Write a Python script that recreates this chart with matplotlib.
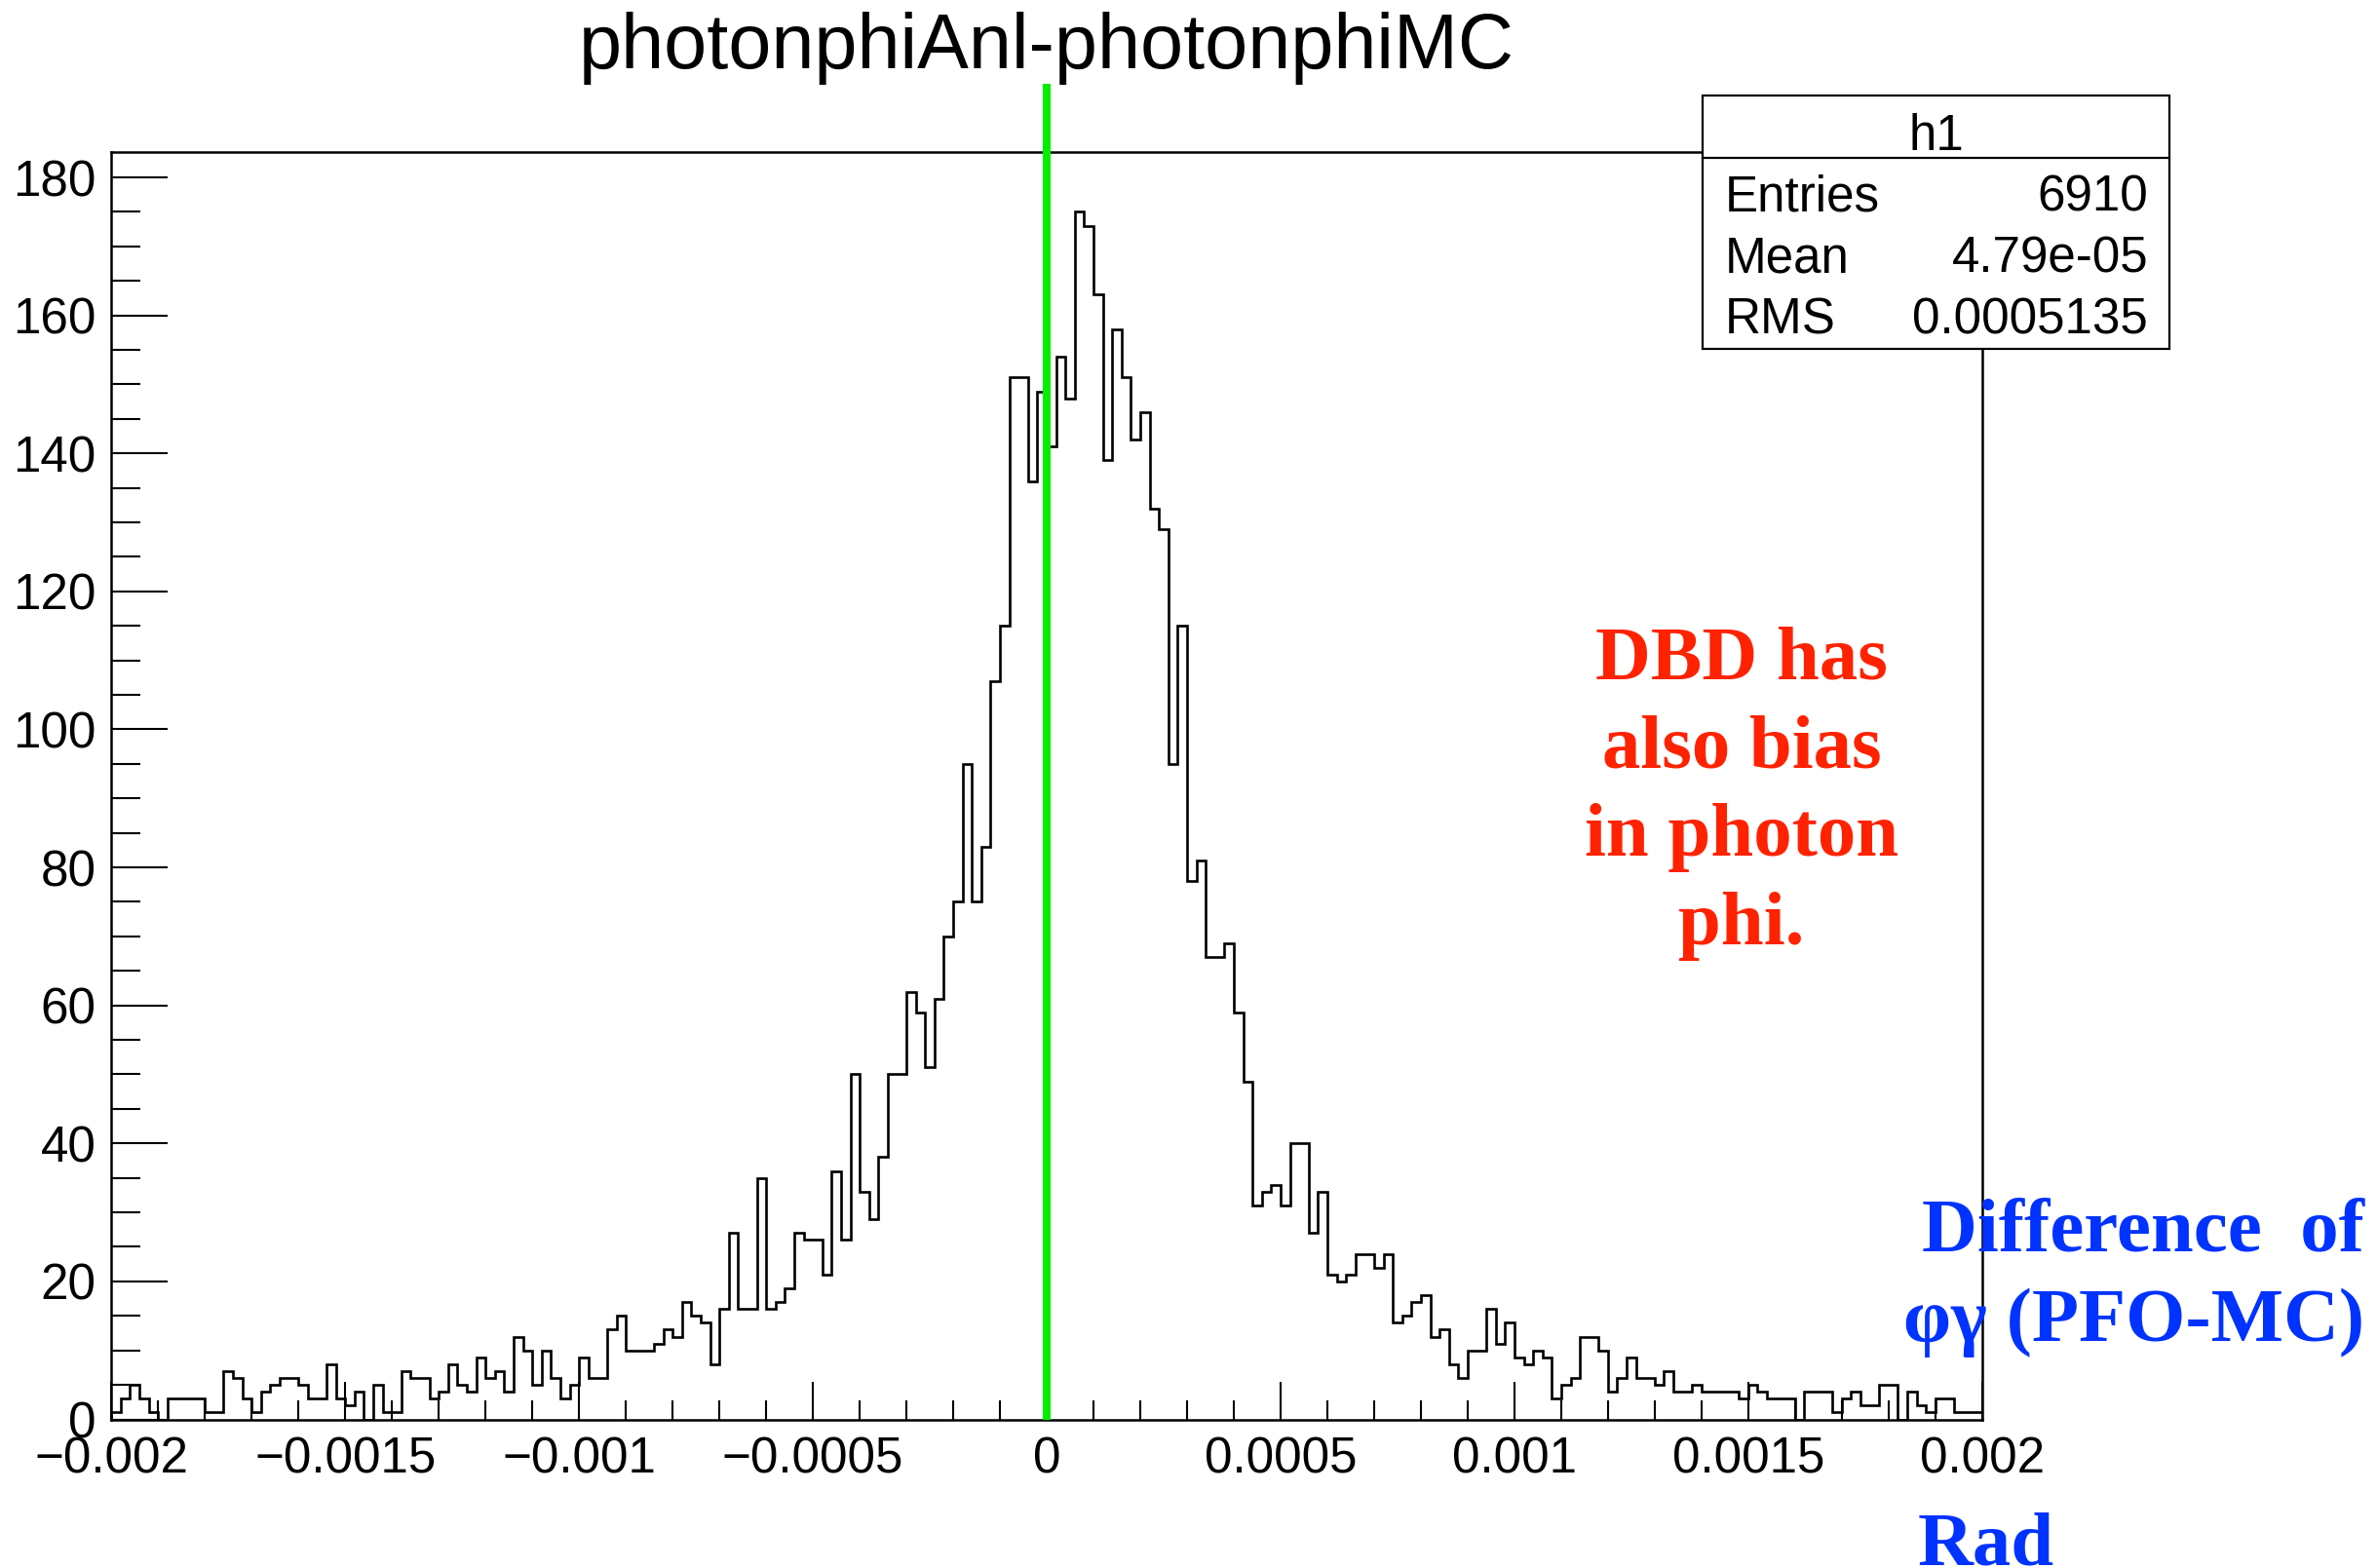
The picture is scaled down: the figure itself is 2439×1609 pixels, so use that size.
import numpy as np
import matplotlib
matplotlib.use("Agg")
import matplotlib.pyplot as plt
from matplotlib.patches import Rectangle
from matplotlib.lines import Line2D
from matplotlib.ticker import FixedLocator, FixedFormatter, MultipleLocator

# ---------------- data ----------------
x_min, x_max, n_bins = -0.002, 0.002, 200
counts = [
    1, 3, 5, 3, 1, 0, 3, 3, 3, 3, 1, 1, 7, 6, 3, 1, 4, 5, 6, 6,
    5, 3, 3, 8, 3, 2, 4, 0, 5, 1, 1, 7, 6, 6, 3, 4, 8, 5, 4, 9,
    6, 7, 4, 12, 10, 5, 10, 6, 3, 5, 9, 6, 6, 13, 15, 10, 10, 10, 11, 13,
    12, 17, 15, 14, 8, 16, 27, 16, 16, 35, 16, 17, 19, 27, 26, 26, 21, 36, 26, 50,
    33, 29, 38, 50, 50, 62, 59, 51, 61, 70, 75, 95, 75, 83, 107, 115, 151, 151, 136, 149,
    141, 154, 148, 175, 173, 163, 139, 158, 151, 142, 146, 132, 129, 95, 115, 78, 81, 67, 67, 69,
    59, 49, 31, 33, 34, 31, 40, 40, 27, 33, 21, 20, 21, 24, 24, 22, 24, 14, 15, 17,
    18, 12, 13, 8, 6, 10, 10, 16, 11, 14, 9, 8, 10, 9, 3, 5, 6, 12, 12, 10,
    4, 6, 9, 6, 6, 5, 7, 4, 4, 5, 4, 4, 4, 4, 3, 5, 4, 3, 3, 3,
    0, 4, 4, 4, 1, 3, 4, 2, 2, 5, 5, 0, 4, 2, 1, 3, 3, 1, 1, 1,
]
y_max = 183.75
x_ticks = [-0.002, -0.0015, -0.001, -0.0005, 0.0, 0.0005, 0.001, 0.0015, 0.002]
x_tick_labels = ["\u22120.002", "\u22120.0015", "\u22120.001", "\u22120.0005", "0",
                 "0.0005", "0.001", "0.0015", "0.002"]
y_ticks = [0, 20, 40, 60, 80, 100, 120, 140, 160, 180]
y_tick_labels = ["0", "20", "40", "60", "80", "100", "120", "140", "160", "180"]
title = "photonphiAnl-photonphiMC"
marker_x = 0.0
marker_top = 193.5
stats_name = "h1"
stats_labels = ["Entries", "Mean", "RMS"]
stats_values = ["6910", "4.79e-05", "0.0005135"]
note_red = ["DBD has", "also bias", "in photon", "phi."]
note_blue = ["Difference  of", "\u03c6\u03b3 (PFO-MC)"]
unit_text = "Rad"

# ---------------- figure ----------------
W, H = 2439, 1609
fig = plt.figure(figsize=(W / 100, H / 100), dpi=100)
fig.patch.set_facecolor("white")

def fx(px):
    return px / W

def fy(py):
    return 1 - py / H

left_px, right_px, top_px, bot_px = 114.3, 2033.8, 155.5, 1456.5
ax = fig.add_axes([fx(left_px), fy(bot_px), fx(right_px - left_px), (bot_px - top_px) / H])

edges = np.linspace(x_min, x_max, n_bins + 1)
ax.stairs(counts, edges, baseline=0, color="black", lw=1.9, zorder=2)
ax.plot([marker_x, marker_x], [0, marker_top], color="#00ee00", lw=5.8,
        clip_on=False, zorder=3, solid_capstyle="butt")

ax.set_xlim(x_min, x_max)
ax.set_ylim(0, y_max)

sans = "Liberation Sans"
serif = "Liberation Serif"

ax.xaxis.set_major_locator(FixedLocator(x_ticks))
ax.xaxis.set_major_formatter(FixedFormatter(x_tick_labels))
ax.xaxis.set_minor_locator(MultipleLocator(0.0001))
ax.yaxis.set_major_locator(FixedLocator(y_ticks))
ax.yaxis.set_major_formatter(FixedFormatter(y_tick_labels))
ax.yaxis.set_minor_locator(MultipleLocator(5))

ax.tick_params(axis="both", which="both", direction="in", top=False, right=False,
               width=1.5, color="black")
ax.tick_params(axis="y", which="major", length=41.5, pad=11.5, labelsize=36.8)
ax.tick_params(axis="y", which="minor", length=21.5)
ax.tick_params(axis="x", which="major", length=28, pad=12, labelsize=36.8)
ax.tick_params(axis="x", which="minor", length=14.5)
for lab in ax.get_xticklabels() + ax.get_yticklabels():
    lab.set_family(sans)

for sp in ax.spines.values():
    sp.set_linewidth(1.8)
    sp.set_color("black")

# title
fig.text(fx((left_px + right_px) / 2), fy(70), title, ha="center", va="baseline",
         fontsize=57, family=sans, color="black")

# stats box
bx0, bx1, by0, by1, bsep = 1747, 2226, 98, 358, 162
fig.add_artist(Rectangle((fx(bx0), fy(by1)), fx(bx1 - bx0), (by1 - by0) / H,
                         transform=fig.transFigure, facecolor="white",
                         edgecolor="black", lw=1.6, zorder=5))
fig.add_artist(Line2D([fx(bx0), fx(bx1)], [fy(bsep), fy(bsep)],
                      transform=fig.transFigure, color="black", lw=1.6, zorder=6))
fig.text(fx((bx0 + bx1) / 2), fy(140), stats_name, ha="center", va="center",
         fontsize=36.8, family=sans, zorder=7)
for i, (lab, val) in enumerate(zip(stats_labels, stats_values)):
    yy = fy(203 + i * 63)
    fig.text(fx(1770), yy, lab, ha="left", va="center", fontsize=36.8, family=sans, zorder=7)
    fig.text(fx(2204), yy, val, ha="right", va="center", fontsize=36.8, family=sans, zorder=7)

# red annotation
for i, line in enumerate(note_red):
    fig.text(fx(1787), fy(696 + i * 91), line, ha="center", va="baseline",
             fontsize=56.7, family=serif, weight="bold", color="#ff2200", zorder=7)

# blue annotations
for i, line in enumerate(note_blue):
    fig.text(fx(2426), fy(1284 + i * 92), line, ha="right", va="baseline",
             fontsize=56.7, family=serif, weight="bold", color="#0033ff", zorder=7)
fig.text(fx(2038), fy(1605), unit_text, ha="center", va="baseline",
         fontsize=56.7, family=serif, weight="bold", color="#0033ff", zorder=7)

fig.savefig("out.png", dpi=100, facecolor="white")
